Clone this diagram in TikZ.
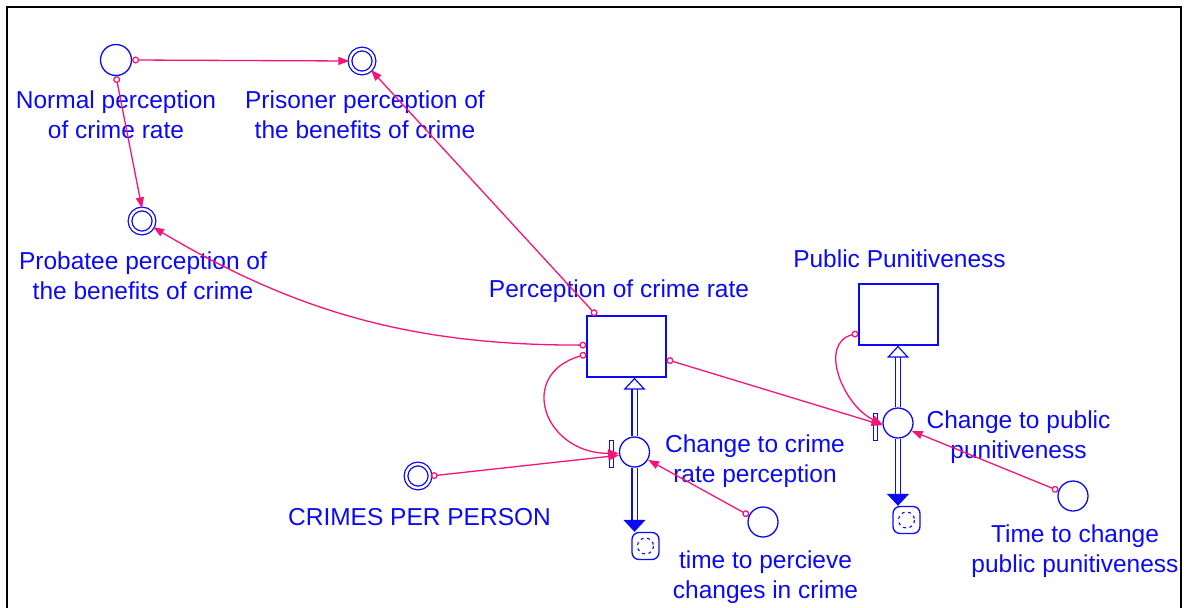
\documentclass[tikz,border=0pt]{standalone}
\usepackage{fontspec}
\setmainfont{Liberation Sans}
\usetikzlibrary{arrows.meta,calc}
\definecolor{vblue}{RGB}{10,10,245}
\definecolor{vpink}{RGB}{245,20,120}
\begin{document}
\begin{tikzpicture}[x=1pt,y=-1pt,
  every node/.style={font=\fontsize{24.5}{30}\selectfont},
  lbl/.style={text=vblue, align=center, inner sep=0},
  aux/.style={circle, draw=vblue, line width=1.3, minimum size=31, inner sep=0},
  ghost/.style={circle, draw=vblue, line width=1.3, minimum size=24, inner sep=0, double=white, double distance=2.4},
  stock/.style={rectangle, draw=vblue, line width=1.3, minimum width=79, minimum height=61, inner sep=0},
  valve/.style={circle, draw=vblue, line width=1.3, minimum size=30, inner sep=0},
  vbar/.style={rectangle, draw=vblue, line width=1.1, minimum width=4, minimum height=27, inner sep=0},
  sinkc/.style={rectangle, rounded corners=7, draw=vblue, line width=1.3, minimum size=27, inner sep=0},
  link/.style={draw=vpink, line width=1.3, {Circle[open,length=7,width=7]}-{Triangle[length=11,width=8]}},
  pipe/.style={draw=vblue, line width=1.2, double=white, double distance=4},
  frame/.style={draw=black, line width=2.5}
]
\useasboundingbox (0,0) rectangle (1187,608);
\draw[frame] (7,608) -- (7,7) -- (1181,7) -- (1181,608);

% auxiliaries
\node[aux] (norm) at (116,60) {};
\node[ghost] (pris) at (362,61) {};
\node[ghost] (prob) at (142,221) {};
\node[ghost] (cpp) at (418,476) {};
\node[aux, minimum size=30] (ttp) at (763,522) {};
\node[aux, minimum size=30] (ttc) at (1073,496) {};

% stocks
\node[stock] (s1) at (626.5,346.5) {};
\node[stock] (s2) at (898.5,314.5) {};

% valves
\node[valve] (v1) at (634.5,452) {};
\node[valve] (v2) at (898,423) {};
\node[vbar] (b1) at (611.5,454) {};
\node[vbar] (b2) at (875.5,427) {};

% sinks
\node[sinkc] (c1) at (645.5,546) {};
\node[sinkc] (c2) at (906.5,520) {};
\foreach \c in {c1,c2}{
  \draw[vblue, line width=1.1, dash pattern=on 3pt off 3.5pt] (\c.center) circle[radius=8];
}

% labels
\node[lbl] (lnorm) at (116,115) {Normal perception\\of crime rate};
\node[lbl] (lpris) at (365,115) {Prisoner perception of\\the benefits of crime};
\node[lbl] (lprob) at (143,276) {Probatee perception of\\the benefits of crime};
\node[lbl] (ls1) at (619,291) {Perception of crime rate};
\node[lbl] (ls2) at (899.5,259) {Public Punitiveness};
\node[lbl] (lv1) at (755,461) {Change to crime\\rate perception};
\node[lbl] (lv2) at (1018.5,437) {Change to public\\punitiveness};
\node[lbl] (lcpp) at (419.5,517) {CRIMES PER PERSON};
\node[lbl] (lttp) at (765.5,577) {time to percieve\\changes in crime};
\node[lbl] (lttc) at (1075,551) {Time to change\\public punitiveness};

% flow pipes
\draw[pipe, -{Triangle[open,length=12,width=22]}] (v1.north) -- (v1.north |- s1.south);
\draw[pipe, -{Triangle[length=12,width=22]}] (v1.south) -- (v1.south |- c1.north);
\draw[pipe, -{Triangle[open,length=12,width=22]}] (v2.north) -- (v2.north |- s2.south);
\draw[pipe, -{Triangle[length=12,width=22]}] (v2.south) -- (v2.south |- c2.north);

% links
\draw[link] (norm.east) -- (pris.west);
\draw[link] (norm.south) -- (prob.north);
\draw[link] (s1.134) -- (pris.-45);
\draw[link] (s1.178) .. controls +(-170,0) and +(146,87) .. (prob.-29);
\draw[link] (s1.191) .. controls +(-70,20) and +(-75,0) .. (v1.185);
\draw[link] (s1.-18) -- (v2.188);
\draw[link] (s2.205) .. controls +(-40,10) and +(-40,-20) .. (v2.185);
\draw[link] (cpp.east) -- (v1.192);
\draw[link] (ttp.155) -- (v1.-30);
\draw[link] (ttc.160) -- (v2.-30);
\end{tikzpicture}
\end{document}
